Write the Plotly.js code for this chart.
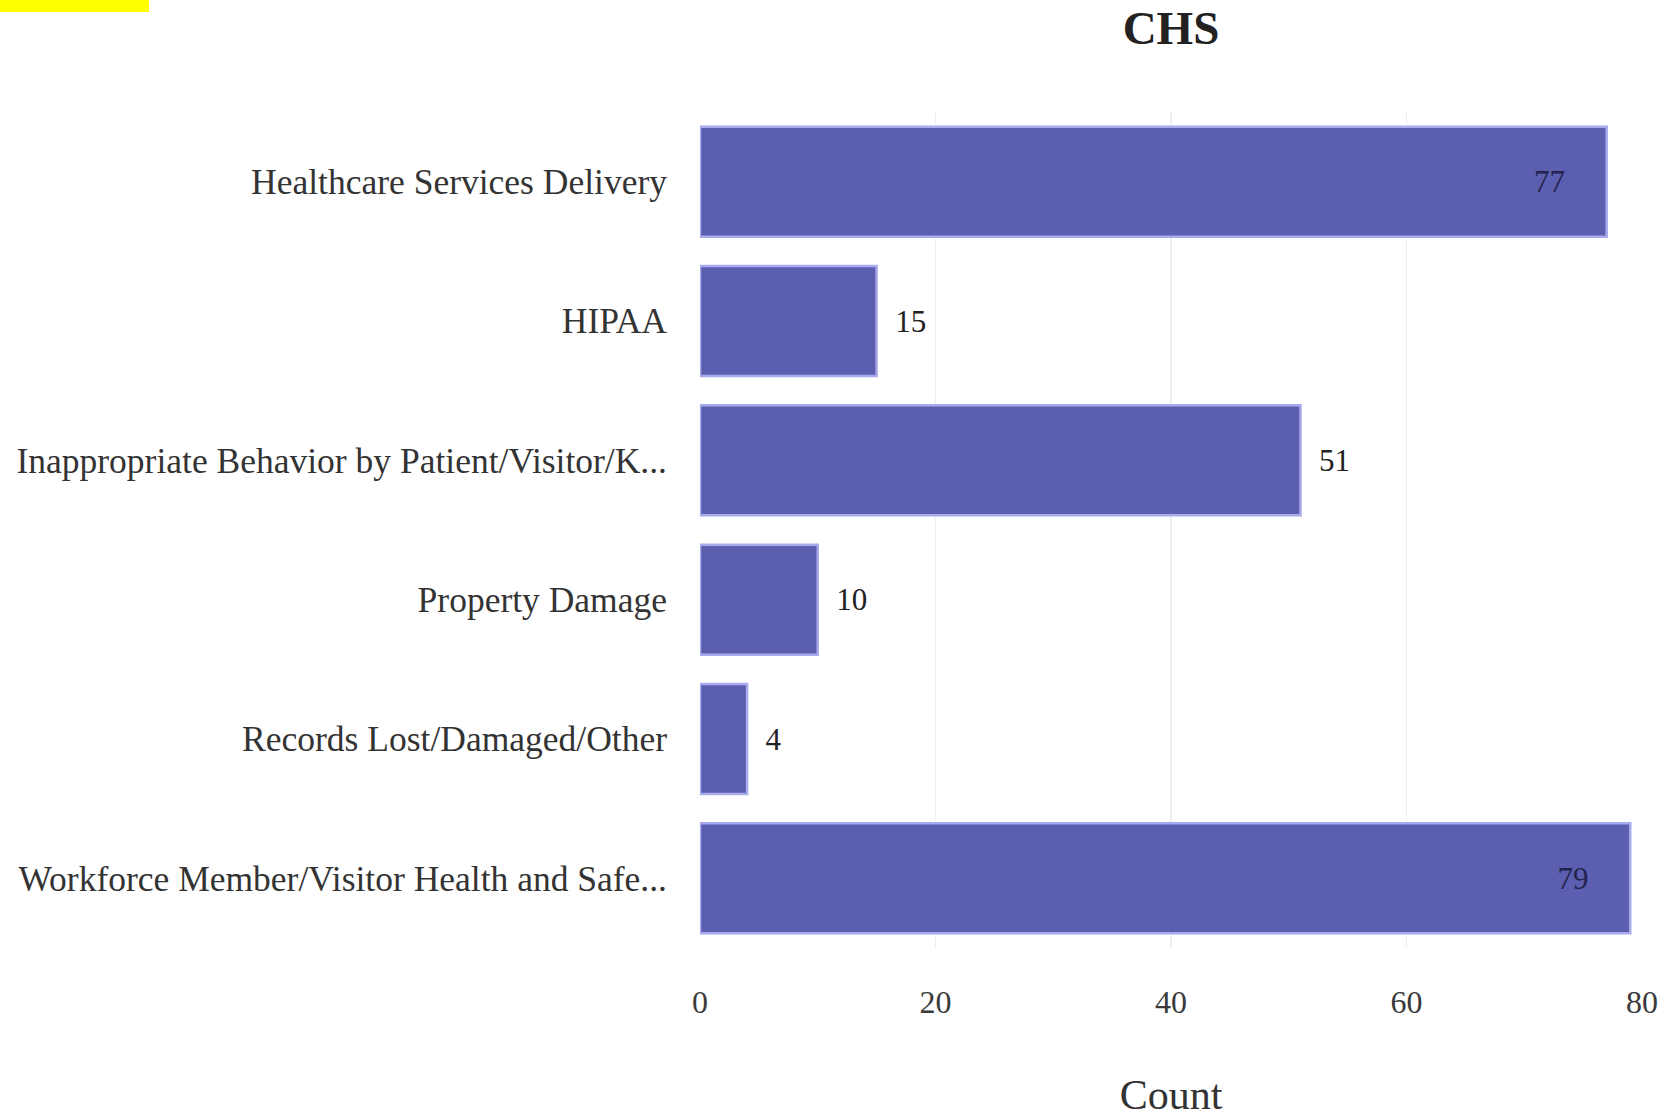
<!DOCTYPE html>
<html>
<head>
<meta charset="utf-8">
<script src="https://cdn.plot.ly/plotly-3.0.1.min.js"></script>
<style>
  html, body { margin: 0; padding: 0; background: #ffffff; }
  #chart { width: 1666px; height: 1118px; }
  #marker { position: absolute; left: 0; top: 0; width: 149px; height: 12px; background: #ffff00; z-index: 10; }
</style>
</head>
<body>
<div id="marker"></div>
<div id="chart"></div>
<script>
const categories = [
  "Healthcare Services Delivery",
  "HIPAA",
  "Inappropriate Behavior by Patient/Visitor/K...",
  "Property Damage",
  "Records Lost/Damaged/Other",
  "Workforce Member/Visitor Health and Safe..."
];
const counts = [77, 15, 51, 10, 4, 79];
const xTicks = [0, 20, 40, 60, 80];
const chartTitle = "CHS";
const xTitle = "Count";

const NB = "\u00a0";
const positions = counts.map(v => (v > 60 ? "inside" : "outside"));
const labels = counts.map((v, i) =>
  positions[i] === "inside" ? String(v) + NB.repeat(5) : NB.repeat(2) + String(v)
);

const trace = {
  type: "bar",
  orientation: "h",
  y: categories,
  x: counts,
  text: labels,
  textposition: positions,
  insidetextanchor: "end",
  cliponaxis: false,
  insidetextfont: { family: "Liberation Serif, Times New Roman, serif", size: 31, color: "#23234f" },
  outsidetextfont: { family: "Liberation Serif, Times New Roman, serif", size: 31, color: "#222222" },
  marker: {
    color: "#5c5fb0",
    line: { color: "#a7aaec", width: 2.5 }
  },
  hoverinfo: "none"
};

const layout = {
  width: 1666,
  height: 1118,
  paper_bgcolor: "#ffffff",
  plot_bgcolor: "#ffffff",
  margin: { l: 700, r: 24, t: 112, b: 170, autoexpand: false },
  bargap: 0.21,
  showlegend: false,
  font: { family: "Liberation Serif, Times New Roman, serif", color: "#333333" },
  title: {
    text: "<b>" + chartTitle + "</b>",
    font: { family: "Liberation Serif, Times New Roman, serif", size: 47, color: "#222222" },
    x: 0.5,
    xref: "paper",
    xanchor: "center",
    y: 0.975,
    yref: "container",
    yanchor: "middle"
  },
  xaxis: {
    range: [0, 80],
    tickvals: xTicks,
    ticktext: xTicks.map(String),
    showgrid: true,
    gridcolor: "#efefef",
    gridwidth: 1.5,
    zeroline: false,
    showline: false,
    ticks: "",
    ticklabelstandoff: 32,
    tickfont: { family: "Liberation Serif, Times New Roman, serif", size: 32, color: "#3a3a3a" },
    automargin: false,
    title: {
      text: xTitle,
      standoff: 60,
      font: { family: "Liberation Serif, Times New Roman, serif", size: 42, color: "#333333" }
    }
  },
  yaxis: {
    type: "category",
    autorange: "reversed",
    showgrid: false,
    zeroline: false,
    showline: false,
    ticks: "",
    ticklabelstandoff: 32,
    tickfont: { family: "Liberation Serif, Times New Roman, serif", size: 35.5, color: "#333333" },
    automargin: false
  }
};

Plotly.newPlot("chart", [trace], layout, { displayModeBar: false, staticPlot: true });
</script>
</body>
</html>
